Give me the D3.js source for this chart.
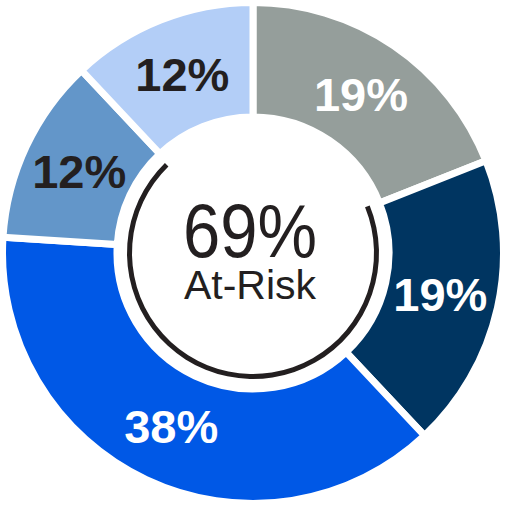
<!DOCTYPE html>
<html>
<head>
<meta charset="utf-8">
<script src="https://cdn.jsdelivr.net/npm/d3@7"></script>
<style>
  html, body { margin: 0; padding: 0; background: #ffffff; }
  svg { display: block; }
</style>
</head>
<body>
<div id="chart"></div>
<script>
// ---- data ----
const categories = ["Gray", "Navy", "Blue", "Medium Blue", "Light Blue"];
const values = [19, 19, 38, 12, 12];
const labels = ["19%", "19%", "38%", "12%", "12%"];
const atRisk = [false, true, true, true, false];
const centerValue = "69%";
const centerLabel = "At-Risk";

// ---- styles ----
const colors = ["#959e9b", "#003561", "#0058e6", "#6396c9", "#b3cef7"];
const labelColors = ["#ffffff", "#ffffff", "#ffffff", "#231f20", "#231f20"];
const ink = "#231f20";
const font = "'Liberation Sans', Arial, Helvetica, sans-serif";

const W = 506, H = 506;
const cx = 253, cy = 253;

const svg = d3.select("#chart").append("svg")
  .attr("width", W).attr("height", H);
const g = svg.append("g").attr("transform", `translate(${cx},${cy})`);

const data = categories.map((c, i) => ({ category: c, value: values[i], label: labels[i], i }));

const pie = d3.pie().value(d => d.value).sort(null);
const arcs = pie(data);

const arc = d3.arc().innerRadius(136).outerRadius(250.5);

g.selectAll("path.slice")
  .data(arcs)
  .join("path")
  .attr("class", "slice")
  .attr("d", arc)
  .attr("fill", d => colors[d.data.i])
  .attr("stroke", "#ffffff")
  .attr("stroke-width", 7)
  .attr("stroke-linejoin", "miter");

// at-risk bracket arc
const riskArcs = arcs.filter(d => atRisk[d.data.i]);
const riskStart = d3.min(riskArcs, d => d.startAngle);
const riskEnd = d3.max(riskArcs, d => d.endAngle);
g.append("path")
  .attr("d", d3.arc().innerRadius(121).outerRadius(126)
    .startAngle(riskStart - 0.01).endAngle(riskEnd - 0.02)())
  .attr("fill", ink);

// slice labels
const labelArc = d3.arc().innerRadius(192).outerRadius(192);
g.selectAll("text.lbl")
  .data(arcs)
  .join("text")
  .attr("class", "lbl")
  .attr("x", d => labelArc.centroid(d)[0])
  .attr("y", d => labelArc.centroid(d)[1] + 16.5)
  .attr("text-anchor", "middle")
  .attr("font-family", font)
  .attr("font-weight", "bold")
  .attr("font-size", 47)
  .attr("fill", d => labelColors[d.data.i])
  .text(d => d.data.label);

// center text
g.append("text")
  .attr("x", -3).attr("y", 4)
  .attr("text-anchor", "middle")
  .attr("font-family", font)
  .attr("font-size", 76)
  .attr("textLength", 134)
  .attr("lengthAdjust", "spacingAndGlyphs")
  .attr("fill", ink)
  .text(centerValue);

g.append("text")
  .attr("x", -3).attr("y", 46)
  .attr("text-anchor", "middle")
  .attr("font-family", font)
  .attr("font-size", 41)
  .attr("fill", ink)
  .text(centerLabel);
</script>
</body>
</html>
